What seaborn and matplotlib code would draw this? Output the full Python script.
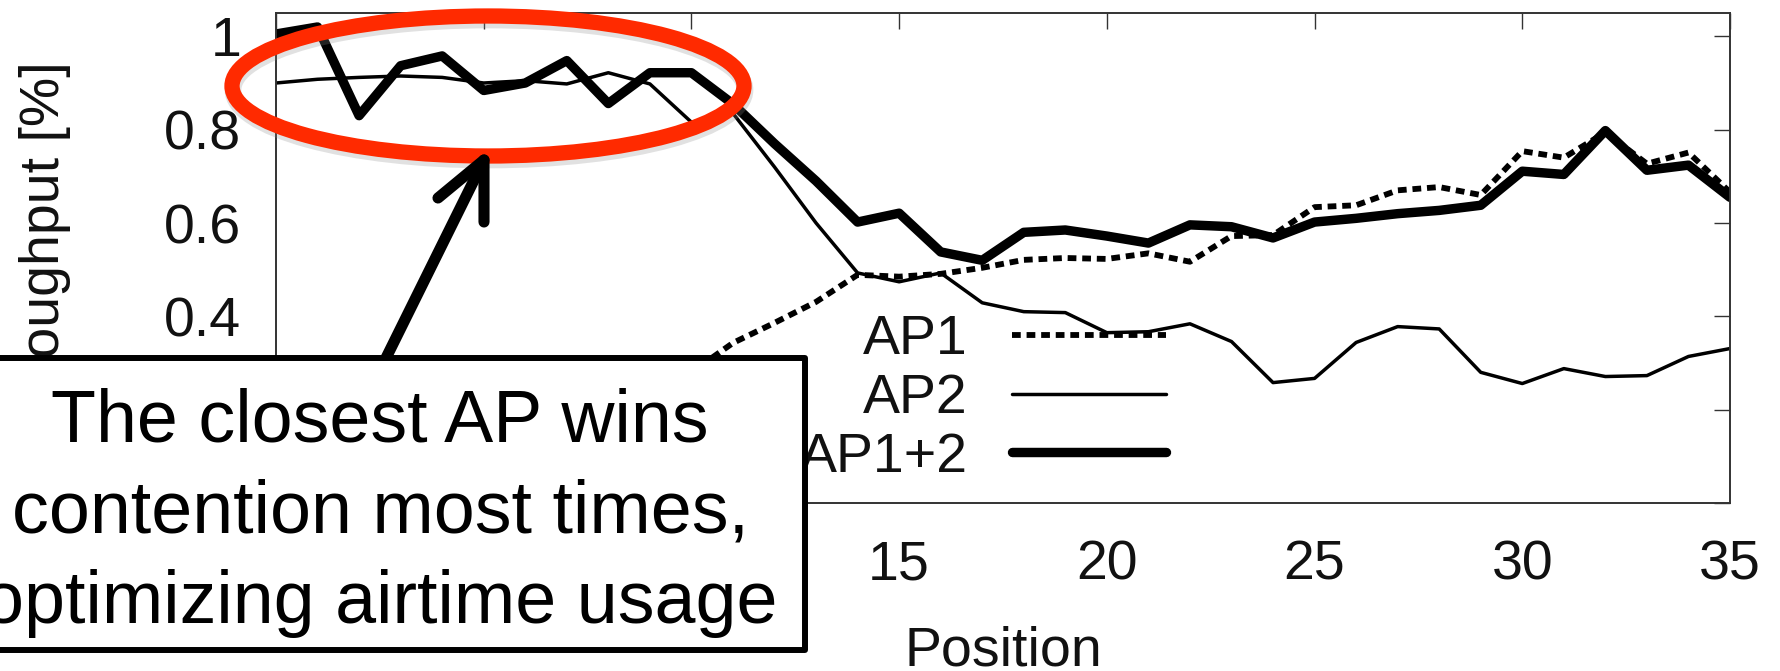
import matplotlib
matplotlib.use("Agg")
import matplotlib.pyplot as plt
import seaborn as sns
from matplotlib.patches import Ellipse, Rectangle
from matplotlib.lines import Line2D

# ---------------- data ----------------
positions = list(range(36))
ap1 = [0.04, 0.05, 0.05, 0.06, 0.07, 0.08, 0.10, 0.12, 0.15, 0.20, 0.28,
       0.343, 0.386, 0.431, 0.489, 0.485, 0.491, 0.504, 0.521, 0.525, 0.523,
       0.535, 0.517, 0.572, 0.574, 0.634, 0.638, 0.670, 0.677, 0.660, 0.754,
       0.740, 0.794, 0.727, 0.751, 0.666]
ap2 = [0.900, 0.908, 0.912, 0.915, 0.912, 0.900, 0.905, 0.898, 0.922, 0.898,
       0.816, 0.835, 0.720, 0.600, 0.493, 0.474, 0.493, 0.429, 0.410, 0.408,
       0.365, 0.367, 0.384, 0.346, 0.258, 0.267, 0.344, 0.378, 0.373, 0.280,
       0.256, 0.288, 0.271, 0.273, 0.314, 0.331]
ap12 = [1.005, 1.020, 0.830, 0.937, 0.958, 0.884, 0.900, 0.948, 0.856, 0.922,
        0.922, 0.855, 0.770, 0.690, 0.602, 0.621, 0.538, 0.520, 0.580, 0.585,
        0.572, 0.557, 0.596, 0.592, 0.568, 0.602, 0.610, 0.620, 0.627, 0.638,
        0.711, 0.704, 0.798, 0.713, 0.724, 0.655]
series_labels = ["AP1", "AP2", "AP1+2"]
x_ticks = [0, 5, 10, 15, 20, 25, 30, 35]
y_ticks = [0, 0.2, 0.4, 0.6, 0.8, 1.0]
y_tick_labels = ["0", "0.2", "0.4", "0.6", "0.8", "1"]
x_label = "Position"
y_label = "Throughput [%]"
note_lines = ["The closest AP wins", "contention most times,",
              "optimizing airtime usage"]

# ---------------- style ----------------
sns.set_theme(style="white")
plt.rcParams["font.family"] = ["Liberation Sans", "DejaVu Sans"]
plt.rcParams["text.color"] = "black"
plt.rcParams["axes.labelcolor"] = "#111111"

W, H = 1780, 671
fig = plt.figure(figsize=(W / 100, H / 100), dpi=100)
fig.patch.set_facecolor("white")


def fx(px):
    return px / W


def fy(py):
    return 1 - py / H


ax_l, ax_r, ax_t, ax_b = 276, 1730, 13, 503
ax = fig.add_axes([fx(ax_l), fy(ax_b), (ax_r - ax_l) / W, (ax_b - ax_t) / H])
ax.set_facecolor("white")

sns.lineplot(x=positions, y=ap1, ax=ax, color="black", linewidth=4.2,
             linestyle=(0, (1.5, 1.0)), label=series_labels[0], legend=False)
sns.lineplot(x=positions, y=ap2, ax=ax, color="black", linewidth=2.5,
             label=series_labels[1], legend=False)
sns.lineplot(x=positions, y=ap12, ax=ax, color="black", linewidth=6.8,
             label=series_labels[2], legend=False)

ax.set_xlim(0, 35)
ax.set_ylim(0, 1.05)
ax.set_xticks(x_ticks)
ax.set_xticklabels([str(t) for t in x_ticks])
ax.set_yticks(y_ticks)
ax.set_yticklabels(y_tick_labels)
ax.tick_params(axis="both", direction="in", length=11.5, width=1.0,
               color="#333333", top=True, right=True, labelsize=40,
               labelcolor="#111111")
ax.tick_params(axis="x", pad=26)
ax.tick_params(axis="y", pad=25)
for s in ax.spines.values():
    s.set_color("#333333")
    s.set_linewidth(1.4)
    s.set_visible(True)
ax.grid(False)

ax.set_xlabel(x_label, fontsize=40, color="#111111")
ax.xaxis.label.set_va("baseline")
ax.xaxis.set_label_coords(0.5, (ax_b - 665) / (ax_b - ax_t))
ax.set_ylabel(y_label, fontsize=40, color="#111111")
ax.yaxis.set_label_coords((71 - ax_l) / (ax_r - ax_l), 0.515)

leg = ax.legend(loc="center right", bbox_to_anchor=(fx(1166), fy(399)),
                bbox_transform=fig.transFigure, frameon=False,
                markerfirst=False, handlelength=2.77, handletextpad=0.8,
                labelspacing=0.12, borderpad=0, borderaxespad=0, fontsize=40)
for t in leg.get_texts():
    t.set_color("#111111")

# ---------------- annotation overlay ----------------
# soft shadow under the red ellipse
shadow = Ellipse((fx(489), fy(90)), width=512 / W, height=140 / H,
                 transform=fig.transFigure, fill=False, edgecolor="#888888",
                 alpha=0.25, linewidth=12, zorder=4)
fig.add_artist(shadow)
# red ellipse
ell = Ellipse((fx(488), fy(86)), width=512 / W, height=140 / H,
              transform=fig.transFigure, fill=False, edgecolor="#FF2A00",
              linewidth=11, zorder=5)
fig.add_artist(ell)

# arrow (shaft + open head)
shaft = Line2D([fx(386), fx(484)], [fy(358), fy(160)],
               transform=fig.transFigure, color="black", linewidth=8,
               solid_capstyle="round", zorder=6)
head = Line2D([fx(438), fx(484), fx(484)], [fy(198), fy(160), fy(222)],
              transform=fig.transFigure, color="black", linewidth=8,
              solid_capstyle="round", solid_joinstyle="round", zorder=6)
fig.add_artist(shaft)
fig.add_artist(head)

# text box
box = Rectangle((fx(-20), fy(650)), (805 + 20) / W, (650 - 358) / H,
                transform=fig.transFigure, facecolor="white",
                edgecolor="black", linewidth=4.3, joinstyle="round",
                zorder=7)
fig.add_artist(box)
for line, base in zip(note_lines, [442, 533, 623]):
    fig.text(fx(380), fy(base), line, ha="center", va="baseline",
             fontsize=53, color="black", zorder=8)

fig.savefig("out.png", dpi=100, facecolor="white")
